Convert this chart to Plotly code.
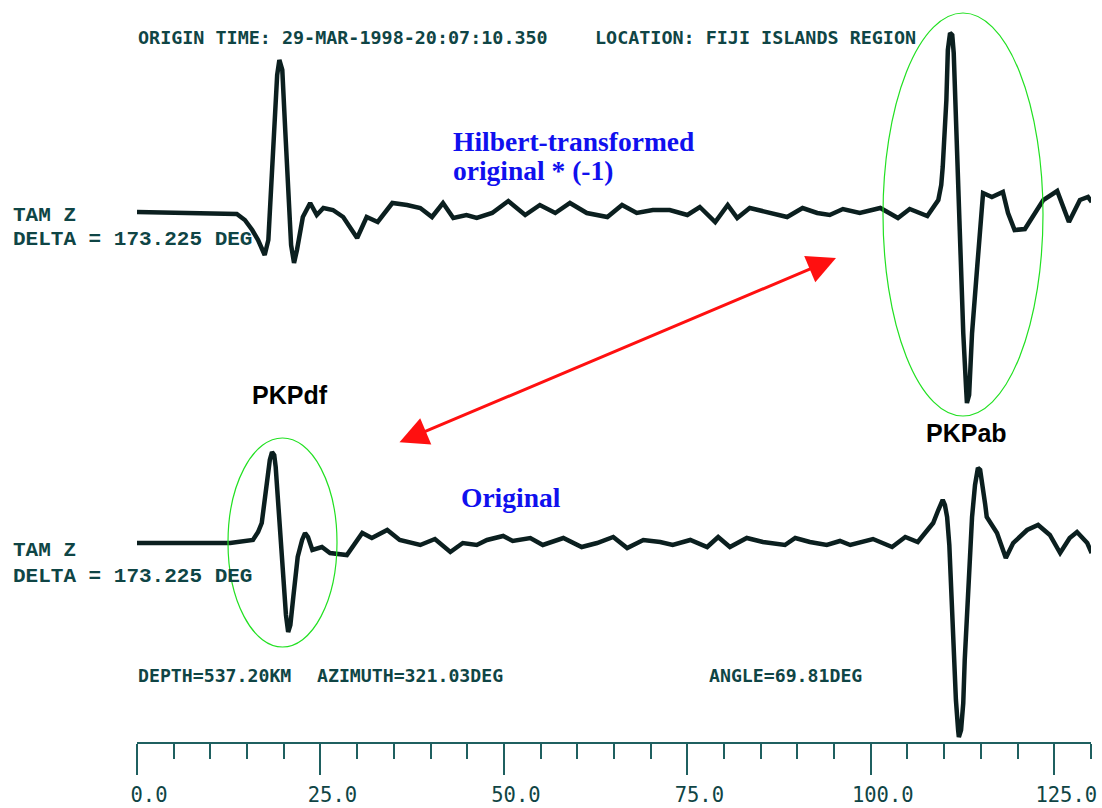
import plotly.graph_objects as go

# ---------------- data (time in s, amplitude in plot units) ----------------
hilbert_t = [0.0, 13.6, 14.7, 15.7, 16.5, 17.0, 17.4, 17.9, 18.1, 18.7, 19.1, 19.4, 19.8, 20.2,
             20.6, 21.0, 21.4, 21.8, 22.6, 23.6, 24.5, 25.4, 26.7, 28.1,
             30.0, 31.3, 32.8, 34.8, 36.8, 38.6, 40.2, 41.7, 43.1, 44.9, 46.3, 48.4, 50.6, 52.9,
             54.9, 57.0, 59.0, 61.3, 64.1, 66.1, 68.1, 70.3, 72.6, 75.0, 76.7, 78.8, 80.5, 81.8,
             83.5, 85.9, 88.6, 90.7, 92.7, 94.4, 96.2, 98.5, 101.3, 103.7, 105.3, 107.7, 109.2,
             109.6, 109.8, 110.3, 110.5, 110.8, 111.1, 111.3, 111.6, 111.9, 112.2, 112.6, 113.0,
             113.1, 113.4, 113.8, 114.5, 114.9, 115.3, 116.5,
             118.0, 118.7, 119.6, 121.0, 123.5, 125.4, 127.0, 128.5, 129.6, 130.1]
hilbert_amp = [0, -2, -8, -18, -28, -38, -43, -28, -1, 82, 137, 152, 142, 82,
               12, -33, -51, -38, -5, 9, -3, 4, 2, -5,
               -26, -5, -10, 9, 7, 4, -5, 9, -6, -3, -6, -1, 11, -3,
               7, -1, 9, -1, -5, 7, -1, 2, 2, -3, 5, -10, 7, -6,
               4, 0, -5, 4, -1, -3, 3, -1, 4, -6, 3, -4, 12,
               27, 45, 112, 162, 179, 177, 159, 92, 12, -28, -121, -178,
               -191, -183, -121, -55, -13, 19, 15,
               20, -1, -18, -17, 12, 21, -10, 12, 15, 10]

original_t = [0.0, 12.7, 15.8, 16.5, 17.0, 17.4, 17.7, 18.1, 18.4, 18.7, 18.9, 19.2, 19.5, 19.8,
              20.0, 20.3, 20.6, 20.9, 21.3, 21.9, 22.5, 22.9, 23.3, 23.9,
              25.2, 26.3, 28.6, 30.7, 32.0, 34.1, 35.8, 38.6, 40.6, 42.7, 44.4, 46.3, 47.7, 49.9,
              51.2, 53.6, 55.3, 58.1, 60.6, 62.7, 64.9, 66.8, 69.0, 71.3, 73.0, 75.4, 77.7, 79.2,
              80.8, 83.1, 85.3, 86.7, 88.3, 89.7, 91.7, 94.0, 95.8, 97.2, 100.3, 102.9, 104.7,
              106.4, 108.5, 109.2, 109.6, 109.8, 110.1, 110.4, 110.7, 110.9, 111.2, 111.6, 111.9,
              112.0, 112.3, 112.6, 112.8, 113.1, 113.5, 113.8, 114.2, 114.6, 114.9, 115.2, 115.6,
              115.8, 116.5, 117.2, 118.4, 119.4, 121.3, 122.8, 124.4, 125.8, 127.1, 128.1, 129.5, 130.1]
original_amp = [0, 0, 3, 11, 20, 43, 56, 83, 91, 88, 76, 43, 13, -17,
                -47, -72, -89, -82, -54, -14, 3, 10, 6, -7,
                -4, -10, -12, 10, 5, 13, 3, -2, 4, -9, 0, -2, 3, 7,
                2, 5, -2, 5, -4, 0, 6, -5, 3, 1, -2, 3, -4, 6,
                -4, 5, 1, 0, -2, 5, 1, -2, 2, -2, 4, -4, 6,
                1, 20, 33, 42, 43, 38, 26, -2, -40, -107, -157, -187,
                -194, -187, -160, -117, -74, -17, 26, 58, 75, 73, 60, 38,
                26, 18, 10, -15, 0, 13, 18, 8, -10, 5, 11, 0, -10]

x_major_ticks = [0, 25, 50, 75, 100, 125]

# ---------------- layout constants ----------------
W, H = 1102, 808
PLOT_BOTTOM = 742            # pixel row of the time axis
TOP_BASE = 530               # baseline of upper trace (plot units)
BOT_BASE = 199               # baseline of lower trace (plot units)
TRACE_COLOR = "#0b1f1f"
TEXT_COLOR = "#0f4545"
AXIS_COLOR = "#1f6060"
BLUE = "#1010ee"
MONO = "DejaVu Sans Mono"


def px(x):
    return x / W


def py(row):
    return (PLOT_BOTTOM - row) / PLOT_BOTTOM


fig = go.Figure()
fig.add_trace(go.Scatter(x=hilbert_t, y=[a + TOP_BASE for a in hilbert_amp], mode="lines",
                         line=dict(color=TRACE_COLOR, width=4.5), hoverinfo="skip"))
fig.add_trace(go.Scatter(x=original_t, y=[a + BOT_BASE for a in original_amp], mode="lines",
                         line=dict(color=TRACE_COLOR, width=4.5), hoverinfo="skip"))

ann = []


def text(x, row, s, size, color=TEXT_COLOR, family=MONO, bold=True):
    ann.append(dict(x=px(x), y=py(row), xref="paper", yref="paper", xanchor="left",
                    yanchor="middle", showarrow=False,
                    text=f"<b>{s}</b>" if bold else s,
                    font=dict(family=family, size=size, color=color)))


text(136, 37, "ORIGIN TIME: 29-MAR-1998-20:07:10.350", 18.4)
text(593, 37, "LOCATION: FIJI ISLANDS REGION", 18.4)
for r1, r2 in [(215, 240), (550, 576)]:
    text(11, r1, "TAM Z", 21, family="Liberation Mono")
    text(11, r2, "DELTA = 173.225 DEG", 21, family="Liberation Mono")
text(136, 675, "DEPTH=537.20KM", 18.2)
text(315, 675, "AZIMUTH=321.03DEG", 18.2)
text(707, 675, "ANGLE=69.81DEG", 18.2)

text(451, 141, "Hilbert-transformed", 27.5, color=BLUE, family="Liberation Serif")
text(451, 171, "original * (-1)", 27.5, color=BLUE, family="Liberation Serif")
text(459, 497, "Original", 27.5, color=BLUE, family="Liberation Serif")
text(250, 395, "PKPdf", 25, color="black", family="Liberation Sans")
text(924, 433, "PKPab", 25, color="black", family="Liberation Sans")

# red double arrow
ann.append(dict(x=px(836), y=py(258), xref="paper", yref="paper", text="", showarrow=True,
                ax=398 - 836, ay=443 - 258, axref="pixel", ayref="pixel",
                arrowside="end+start", arrowhead=2, startarrowhead=2,
                arrowsize=1.9, startarrowsize=1.9, arrowwidth=3, arrowcolor="#ff1010"))

shapes = [
    dict(type="circle", xref="paper", yref="paper", x0=px(883), x1=px(1043), y0=py(416), y1=py(13),
         line=dict(color="#22e022", width=1.2)),
    dict(type="circle", xref="paper", yref="paper", x0=px(228), x1=px(337), y0=py(647), y1=py(438),
         line=dict(color="#22e022", width=1.2)),
]

fig.update_layout(
    template="none",
    width=W, height=H, margin=dict(l=0, r=0, t=0, b=H - PLOT_BOTTOM, pad=0, autoexpand=False),
    paper_bgcolor="white", plot_bgcolor="white", showlegend=False,
    annotations=ann, shapes=shapes,
    xaxis=dict(domain=[px(137), px(137 + 130 * 7.338)], range=[0, 130], automargin=False,
               showgrid=False, zeroline=False, showline=True, linecolor=AXIS_COLOR, linewidth=2,
               ticks="outside", tickmode="array", tickvals=x_major_ticks, ticklen=31, tickwidth=2,
               tickcolor=AXIS_COLOR, tickformat=".1f", ticklabelshift=12, ticklabelstandoff=2,
               tickfont=dict(family=MONO, size=20.5, color=TEXT_COLOR),
               minor=dict(tickmode="linear", tick0=0, dtick=5, ticks="outside", ticklen=15,
                          tickwidth=2, tickcolor=AXIS_COLOR, showgrid=False)),
    yaxis=dict(range=[0, PLOT_BOTTOM], visible=False, fixedrange=True, automargin=False),
)
fig.write_html("out.html")
